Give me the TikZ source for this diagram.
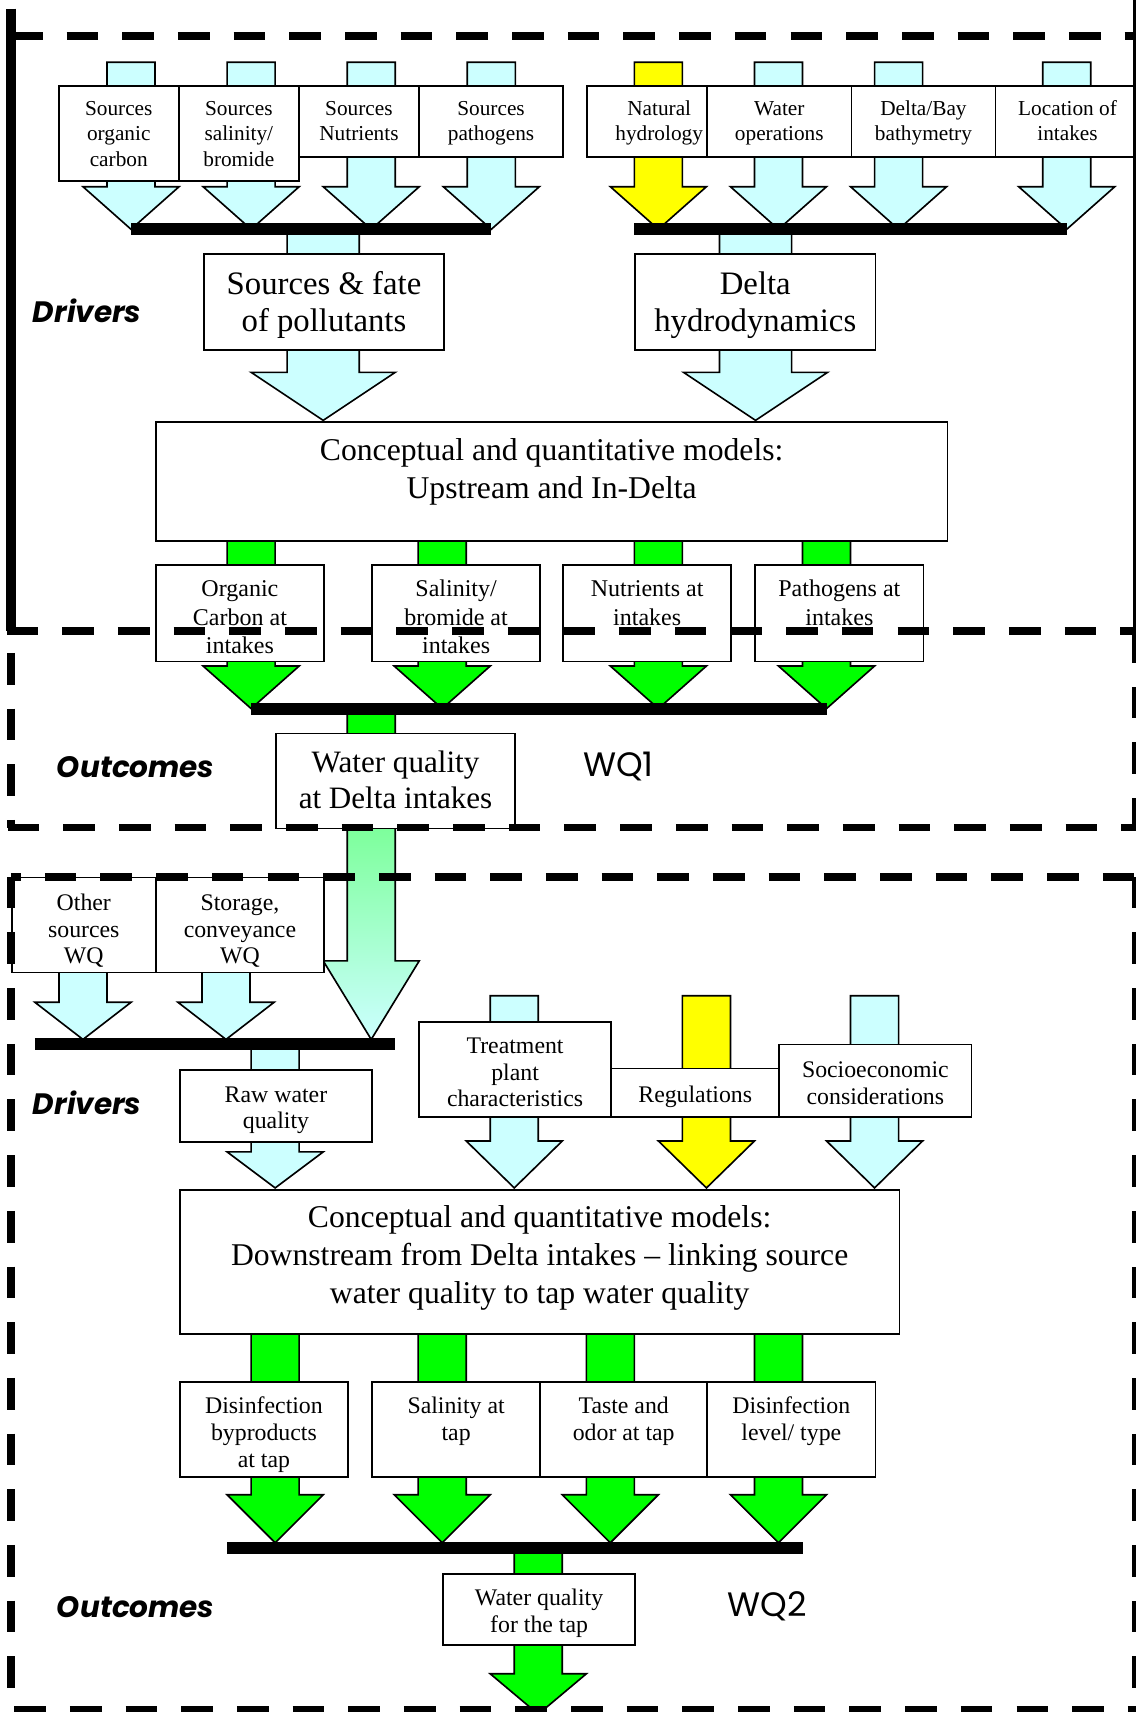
\documentclass[tikz,border=0pt]{standalone}
\usepackage{fontspec}
\setmainfont{Liberation Serif}
\newfontfamily\tagfont{Poppins}
\usepackage{tikz}
\usetikzlibrary{calc}

\definecolor{paleblue}{RGB}{204,255,255}
\definecolor{lime}{RGB}{0,255,0}
\definecolor{palegreen}{RGB}{125,255,155}
\definecolor{sun}{RGB}{255,255,0}

\newcommand{\cell}[4]{\parbox[c][#2pt][t]{#1pt}{\centering\vspace*{\dimexpr#3pt-\ht\strutbox\relax}\strut#4\par}}
\newcommand{\fatarrow}[7][fill=paleblue]{\draw[arrowline,#1] (#2-#6,#3) -- (#2+#6,#3) -- (#2+#6,#4) -- (#2+#7,#4) -- (#2,#5) -- (#2-#7,#4) -- (#2-#6,#4) -- cycle;}

\begin{document}
\begin{tikzpicture}[x=1pt,y=-1pt,
  cell/.style={draw,fill=white,line width=1.5pt,inner sep=0pt,anchor=north west},
  arrowline/.style={draw,line width=1.5pt,line join=miter},
  bar/.style={line width=11pt},
  frame/.style={line width=7pt,dash pattern=on 29pt off 22pt},
  srctext/.style={font=\fontsize{19.5}{23}\selectfont},
  bigtext/.style={font=\fontsize{30}{34}\selectfont},
  modtext/.style={font=\fontsize{29}{34.5}\selectfont},
  outtext/.style={font=\fontsize{28.5}{33.5}\selectfont},
  intext/.style={font=\fontsize{22}{26}\selectfont},
  lowtext/.style={font=\fontsize{21.8}{24.5}\selectfont},
  tag/.style={font=\tagfont\bfseries\itshape\fontsize{27}{30}\selectfont,inner sep=0pt,anchor=west},
  wqtag/.style={font=\tagfont\fontsize{31}{33}\selectfont,inner sep=0pt,anchor=west}]
\useasboundingbox (0,0) rectangle (1040,1568);

\fatarrow{120}{57}{171}{210}{22}{44}
\fatarrow{230}{57}{171}{210}{22}{44}
\fatarrow{340}{57}{171}{210}{22}{44}
\fatarrow{450}{57}{171}{210}{22}{44}
\fatarrow[fill=sun]{603}{57}{171}{210}{22}{44}
\fatarrow{713}{57}{171}{210}{22}{44}
\fatarrow{823}{57}{171}{210}{22}{44}
\fatarrow{977}{57}{171}{210}{22}{44}
\fatarrow{296}{210}{341}{385}{33}{66}
\fatarrow{692}{210}{341}{385}{33}{66}
\fatarrow[fill=lime]{230}{495}{610}{649}{22}{44}
\fatarrow[fill=lime]{405}{495}{610}{649}{22}{44}
\fatarrow[fill=lime]{603}{495}{610}{649}{22}{44}
\fatarrow[fill=lime]{757}{495}{610}{649}{22}{44}
\fatarrow[fill=lime]{340}{649}{700}{730}{22}{44}
\fatarrow[top color=palegreen,bottom color=paleblue]{340}{758}{880}{952}{22}{44}
\fatarrow{76}{880}{918}{952}{22}{44}
\fatarrow{207}{880}{918}{952}{22}{44}
\fatarrow{252}{956}{1055}{1088}{22}{44}
\fatarrow{471}{912}{1045}{1088}{22}{44}
\fatarrow[fill=sun]{647}{912}{1045}{1088}{22}{44}
\fatarrow{801}{912}{1045}{1088}{22}{44}
\fatarrow[fill=lime]{252}{1221}{1369}{1413}{22}{44}
\fatarrow[fill=lime]{405}{1221}{1369}{1413}{22}{44}
\fatarrow[fill=lime]{559}{1221}{1369}{1413}{22}{44}
\fatarrow[fill=lime]{713}{1221}{1369}{1413}{22}{44}
\fatarrow[fill=lime]{493}{1418}{1533}{1570}{22}{44}

\draw[bar] (120,209.5) -- (450,209.5);
\draw[bar] (581,209.5) -- (977,209.5);
\draw[bar] (230,649.5) -- (757,649.5);
\draw[bar] (32,956.5) -- (362,956.5);
\draw[bar] (208,1418) -- (735,1418);

\node[cell,srctext] (SOC) at (53,78) {\cell{110}{87}{27.3}{Sources\\organic\\carbon}};
\node[cell,srctext] (SSB) at (163,78) {\cell{110}{87}{27.3}{Sources\\salinity/\\bromide}};
\node[cell,srctext] (SNU) at (273,78) {\cell{110}{65}{27.3}{Sources\\Nutrients}};
\node[cell,srctext] (SPA) at (383,78) {\cell{132}{65}{27.3}{Sources\\pathogens}};
\node[cell,srctext] (NHY) at (537,78) {\cell{132}{65}{27.3}{Natural\\hydrology}};
\node[cell,srctext] (WOP) at (647,78) {\cell{132}{65}{27.3}{Water\\operations}};
\node[cell,srctext] (DBB) at (779,78) {\cell{132}{65}{27.3}{Delta/Bay\\bathymetry}};
\node[cell,srctext] (LOI) at (911,78) {\cell{132}{65}{27.3}{Location of\\intakes}};
\node[cell,bigtext] (SFP) at (186,232) {\cell{220}{88}{36.6}{Sources \& fate\\of pollutants}};
\node[cell,bigtext] (DHY) at (581,232) {\cell{220}{88}{36.6}{Delta\\hydrodynamics}};
\node[cell,modtext] (MODA) at (142,386) {\cell{725}{109}{35}{Conceptual and quantitative models:\\Upstream and In-Delta}};
\node[cell,intext] (OCI) at (142,517) {\cell{154}{88}{29}{Organic\\Carbon at\\intakes}};
\node[cell,intext] (SBI) at (340,517) {\cell{154}{88}{29}{Salinity/\\bromide at\\intakes}};
\node[cell,intext] (NUI) at (515,517) {\cell{154}{88}{29}{Nutrients at\\intakes}};
\node[cell,intext] (PAI) at (691,517) {\cell{154}{88}{29}{Pathogens at\\intakes}};
\node[cell,outtext] (WQA) at (252,671) {\cell{219}{87}{35.5}{Water quality\\at Delta intakes}};
\node[cell,lowtext] (OSW) at (10,803) {\cell{132}{87}{30}{Other\\sources\\WQ}};
\node[cell,lowtext] (SCW) at (142,803) {\cell{154}{87}{30}{Storage,\\conveyance\\WQ}};
\node[cell,lowtext] (RWQ) at (164,979) {\cell{176}{66}{29.6}{Raw water\\quality}};
\node[cell,lowtext] (TPC) at (383,935) {\cell{176}{87}{29}{Treatment\\plant\\characteristics}};
\node[cell,lowtext] (REG) at (559,978) {\cell{154}{44}{30.6}{Regulations}};
\node[cell,lowtext] (SEC) at (713,956) {\cell{176}{66}{30}{Socioeconomic\\considerations}};
\node[cell,modtext] (MODB) at (164,1089) {\cell{659}{132}{34.8}{Conceptual and quantitative models:\\Downstream from Delta intakes \textendash{} linking source\\water quality to tap water quality}};
\node[cell,lowtext] (DBP) at (164,1265) {\cell{154}{87}{29}{Disinfection\\byproducts\\at tap}};
\node[cell,lowtext] (SAT) at (340,1265) {\cell{154}{87}{29}{Salinity at\\tap}};
\node[cell,lowtext] (TOT) at (494,1265) {\cell{153}{87}{29}{Taste and\\odor at tap}};
\node[cell,lowtext] (DLT) at (647,1265) {\cell{154}{87}{29}{Disinfection\\level/ type}};
\node[cell,lowtext] (WQB) at (405,1441) {\cell{176}{65}{29}{Water quality\\for the tap}};

\node[tag] (DRA) at (30,285) {Drivers};
\node[tag] (OUA) at (52,703) {Outcomes};
\node[wqtag] (WQ1) at (534,702) {WQ1};
\node[tag] (DRB) at (30,1010) {Drivers};
\node[tag] (OUB) at (52,1472) {Outcomes};
\node[wqtag] (WQ2) at (666,1471) {WQ2};

\draw[line width=9pt] (10,8) -- (10,578);
\draw[line width=5pt] (1040,0) -- (1040,578);
\draw[frame] (10,33) -- (1040,33);
\draw[frame] (6,578) -- (1040,578);
\draw[frame,dash phase=31pt] (10,578) -- (10,758);
\draw[frame] (7,758) -- (1040,758);
\draw[frame] (1040,578) -- (1040,758);
\draw[frame,dash phase=20pt] (10,803) -- (1040,803);
\draw[frame] (10,803) -- (10,1566);
\draw[frame] (13,1566) -- (1040,1566);
\draw[frame] (1040,803) -- (1040,1566);
\end{tikzpicture}
\end{document}
